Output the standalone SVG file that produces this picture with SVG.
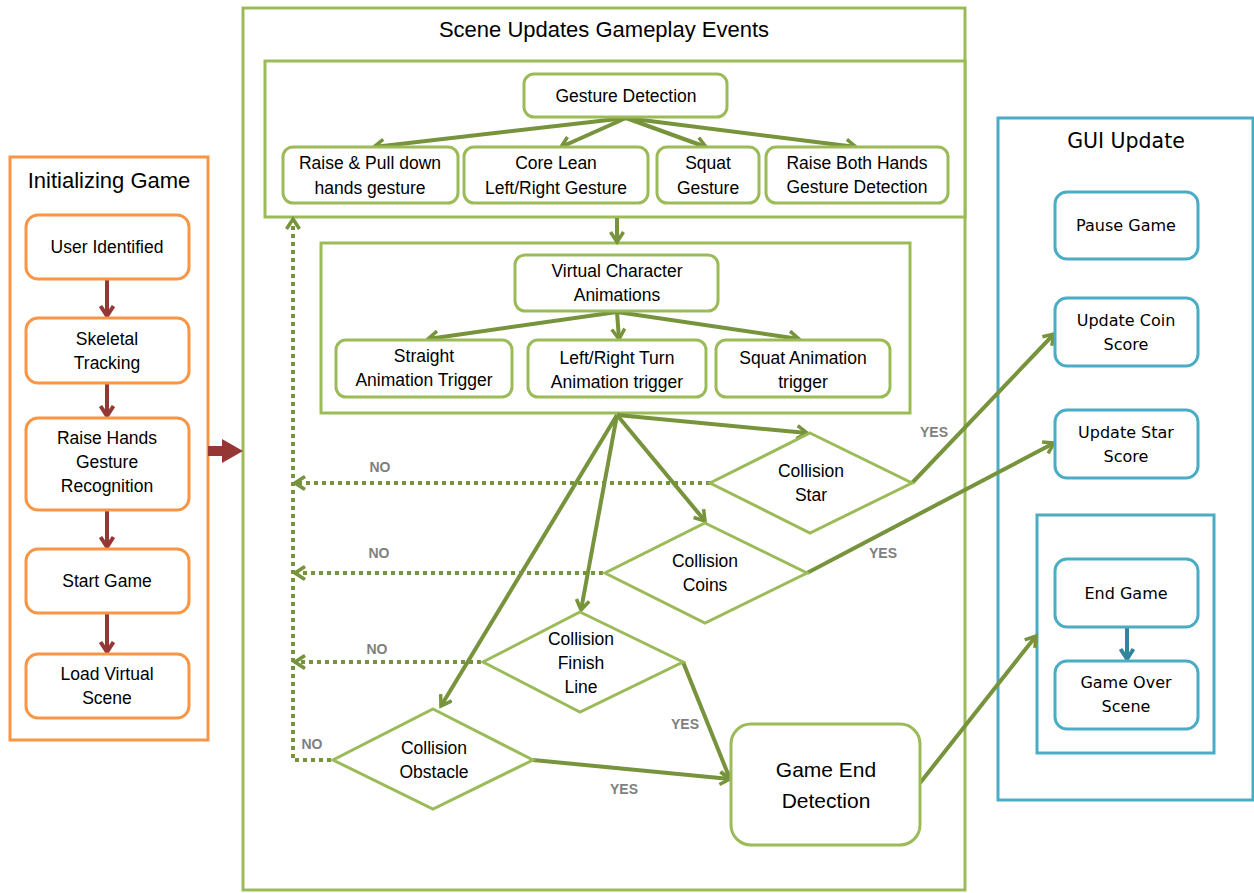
<svg xmlns="http://www.w3.org/2000/svg" width="1254" height="893" viewBox="0 0 1254 893">
<defs>
<style>
.bg{fill:#ffffff}
.pnlG{fill:#ffffff;stroke:#9BBB59;stroke-width:3}
.pnlO{fill:#ffffff;stroke:#F79646;stroke-width:3}
.pnlB{fill:#ffffff;stroke:#4BACC6;stroke-width:3}
.ndG{fill:#ffffff;stroke:#9BBB59;stroke-width:3}
.ndO{fill:#ffffff;stroke:#F79646;stroke-width:3}
.ndB{fill:#ffffff;stroke:#4BACC6;stroke-width:3}
.t{font-family:"Liberation Sans",Arial,sans-serif;font-size:17.5px;fill:#000;text-anchor:middle}
.tv{font-family:"DejaVu Sans",Verdana,sans-serif;font-size:16px;fill:#000;text-anchor:middle}
.ttl{font-family:"Liberation Sans",Arial,sans-serif;font-size:22px;fill:#000;text-anchor:middle}
.lbl{font-family:"Liberation Sans",Arial,sans-serif;font-size:14px;font-weight:bold;fill:#7F7F7F;text-anchor:middle}
.ag{fill:none;stroke:#77933C;stroke-width:4;marker-end:url(#mg)}
.agd{fill:none;stroke:#77933C;stroke-width:4;stroke-dasharray:4 4;marker-end:url(#mg)}
.ar{fill:none;stroke:#953735;stroke-width:4;marker-end:url(#mr)}
.at{fill:none;stroke:#31849B;stroke-width:4;marker-end:url(#mt)}
</style>
<marker id="mg" viewBox="0 0 16 16" refX="13" refY="8" markerWidth="16" markerHeight="16" markerUnits="userSpaceOnUse" orient="auto">
<path d="M3,1.5 L13,8 L3,14.5" fill="none" stroke="#77933C" stroke-width="3.5"/>
</marker>
<marker id="mr" viewBox="0 0 16 16" refX="13" refY="8" markerWidth="16" markerHeight="16" markerUnits="userSpaceOnUse" orient="auto">
<path d="M3,1.5 L13,8 L3,14.5" fill="none" stroke="#953735" stroke-width="4"/>
</marker>
<marker id="mt" viewBox="0 0 16 16" refX="13" refY="8" markerWidth="16" markerHeight="16" markerUnits="userSpaceOnUse" orient="auto">
<path d="M3,1.5 L13,8 L3,14.5" fill="none" stroke="#31849B" stroke-width="4"/>
</marker>
</defs>
<rect class="bg" x="0" y="0" width="1254" height="893"/>

<g id="panel-init">
<rect class="pnlO" x="10" y="157" width="198" height="583"/>
<text class="ttl" x="109" y="188">Initializing Game</text>
</g>
<g id="panel-scene">
<rect class="pnlG" x="243" y="8" width="722" height="882"/>
<text class="ttl" x="604" y="37">Scene Updates Gameplay Events</text>
</g>
<g id="panel-gesture">
<rect class="pnlG" x="265" y="61" width="700" height="156"/>
</g>
<g id="panel-anim">
<rect class="pnlG" x="321" y="243" width="589" height="170"/>
</g>
<g id="panel-gui">
<rect class="pnlB" x="998" y="118" width="255" height="682"/>
<text class="ttl" x="1126" y="148" style="font-family:'DejaVu Sans',Verdana,sans-serif;font-size:20.5px">GUI Update</text>
</g>
<g id="panel-gameover">
<rect class="pnlB" x="1037" y="515" width="177" height="238"/>
</g>

<g id="connectors">
<line class="ar" x1="107" y1="280" x2="107" y2="316"/>
<line class="ar" x1="107" y1="384" x2="107" y2="416"/>
<line class="ar" x1="107" y1="511" x2="107" y2="547"/>
<line class="ar" x1="107" y1="614" x2="107" y2="652"/>
<path d="M208,446 L222,446 L222,439 L243,451 L222,463 L222,456 L208,456 Z" fill="#953735"/>
<line class="ag" x1="626" y1="118" x2="374" y2="147"/>
<line class="ag" x1="626" y1="118" x2="561" y2="147"/>
<line class="ag" x1="626" y1="118" x2="706" y2="147"/>
<line class="ag" x1="626" y1="118" x2="856" y2="147"/>
<line class="ag" x1="617" y1="218" x2="617" y2="242"/>
<line class="ag" x1="617" y1="312" x2="428" y2="339"/>
<line class="ag" x1="617" y1="312" x2="619" y2="339"/>
<line class="ag" x1="617" y1="312" x2="799" y2="339"/>
<line class="ag" x1="617" y1="415" x2="807" y2="433"/>
<line class="ag" x1="617" y1="415" x2="705" y2="521"/>
<line class="ag" x1="617" y1="415" x2="581" y2="610"/>
<line class="ag" x1="617" y1="415" x2="441" y2="706"/>
<line class="agd" x1="710" y1="483" x2="295" y2="483"/>
<line class="agd" x1="603" y1="573" x2="295" y2="573"/>
<line class="agd" x1="481" y1="662" x2="295" y2="662"/>
<polyline class="agd" points="331,760 293,760 293,219"/>
<line class="ag" x1="912" y1="483" x2="1054" y2="334"/>
<line class="ag" x1="807" y1="573" x2="1054" y2="443"/>
<line class="ag" x1="683" y1="662" x2="730" y2="779"/>
<line class="ag" x1="533" y1="760" x2="730" y2="779"/>
<line class="ag" x1="920" y1="783" x2="1036" y2="636"/>
<line class="at" x1="1127" y1="628" x2="1127" y2="659"/>
<text class="lbl" x="380" y="472">NO</text>
<text class="lbl" x="379" y="558">NO</text>
<text class="lbl" x="377" y="654">NO</text>
<text class="lbl" x="312" y="749">NO</text>
<text class="lbl" x="934" y="437">YES</text>
<text class="lbl" x="883" y="558">YES</text>
<text class="lbl" x="685" y="729">YES</text>
<text class="lbl" x="624" y="794">YES</text>
</g>

<g id="n-user">
<rect class="ndO" x="26" y="215" width="163" height="64" rx="12"/>
<text class="t" x="107" y="253">User Identified</text>
</g>
<g id="n-skeletal">
<rect class="ndO" x="26" y="318" width="163" height="65" rx="12"/>
<text class="t" x="107" y="345">Skeletal</text>
<text class="t" x="107" y="369">Tracking</text>
</g>
<g id="n-raisehands">
<rect class="ndO" x="26" y="418" width="163" height="92" rx="12"/>
<text class="t" x="107" y="444">Raise Hands</text>
<text class="t" x="107" y="468">Gesture</text>
<text class="t" x="107" y="492">Recognition</text>
</g>
<g id="n-start">
<rect class="ndO" x="26" y="549" width="163" height="64" rx="12"/>
<text class="t" x="107" y="587">Start Game</text>
</g>
<g id="n-load">
<rect class="ndO" x="26" y="654" width="163" height="64" rx="12"/>
<text class="t" x="107" y="680">Load Virtual</text>
<text class="t" x="107" y="704">Scene</text>
</g>

<g id="n-gesture">
<rect class="ndG" x="524" y="74" width="203" height="43" rx="10"/>
<text class="t" x="626" y="102">Gesture Detection</text>
</g>
<g id="n-raisepull">
<rect class="ndG" x="283" y="147" width="175" height="56" rx="10"/>
<text class="t" x="370" y="169">Raise &amp; Pull down</text>
<text class="t" x="370" y="194">hands gesture</text>
</g>
<g id="n-corelean">
<rect class="ndG" x="464" y="147" width="184" height="56" rx="10"/>
<text class="t" x="556" y="169">Core Lean</text>
<text class="t" x="556" y="194">Left/Right Gesture</text>
</g>
<g id="n-squat">
<rect class="ndG" x="657" y="147" width="102" height="56" rx="10"/>
<text class="t" x="708" y="169">Squat</text>
<text class="t" x="708" y="194">Gesture</text>
</g>
<g id="n-raiseboth">
<rect class="ndG" x="766" y="147" width="182" height="56" rx="10"/>
<text class="t" x="857" y="169">Raise Both Hands</text>
<text class="t" x="857" y="193">Gesture Detection</text>
</g>

<g id="n-vca">
<rect class="ndG" x="515" y="255" width="203" height="56" rx="10"/>
<text class="t" x="617" y="277">Virtual Character</text>
<text class="t" x="617" y="301">Animations</text>
</g>
<g id="n-straight">
<rect class="ndG" x="336" y="340" width="176" height="57" rx="10"/>
<text class="t" x="424" y="362">Straight</text>
<text class="t" x="424" y="386">Animation Trigger</text>
</g>
<g id="n-turn">
<rect class="ndG" x="528" y="340" width="178" height="57" rx="10"/>
<text class="t" x="617" y="364">Left/Right Turn</text>
<text class="t" x="617" y="388">Animation trigger</text>
</g>
<g id="n-squatanim">
<rect class="ndG" x="716" y="340" width="174" height="57" rx="10"/>
<text class="t" x="803" y="364">Squat Animation</text>
<text class="t" x="803" y="388">trigger</text>
</g>

<g id="n-star">
<polygon class="ndG" points="810,433 912,483 810,533 710,483"/>
<text class="t" x="811" y="477">Collision</text>
<text class="t" x="811" y="501">Star</text>
</g>
<g id="n-coins">
<polygon class="ndG" points="705,523 807,573 705,623 605,573"/>
<text class="t" x="705" y="567">Collision</text>
<text class="t" x="705" y="591">Coins</text>
</g>
<g id="n-finish">
<polygon class="ndG" points="580,612 683,662 580,712 483,662"/>
<text class="t" x="581" y="645">Collision</text>
<text class="t" x="581" y="669">Finish</text>
<text class="t" x="581" y="693">Line</text>
</g>
<g id="n-obstacle">
<polygon class="ndG" points="433,709 533,760 433,809 333,760"/>
<text class="t" x="434" y="754">Collision</text>
<text class="t" x="434" y="778">Obstacle</text>
</g>
<g id="n-gameend">
<rect class="ndG" x="731" y="724" width="189" height="121" rx="20"/>
<text class="t" x="826" y="777" style="font-size:21px">Game End</text>
<text class="t" x="826" y="808" style="font-size:21px">Detection</text>
</g>

<g id="n-pause">
<rect class="ndB" x="1055" y="192" width="143" height="67" rx="12"/>
<text class="tv" x="1126" y="231">Pause Game</text>
</g>
<g id="n-coinscore">
<rect class="ndB" x="1055" y="298" width="143" height="68" rx="12"/>
<text class="tv" x="1126" y="326">Update Coin</text>
<text class="tv" x="1126" y="350">Score</text>
</g>
<g id="n-starscore">
<rect class="ndB" x="1055" y="410" width="143" height="68" rx="12"/>
<text class="tv" x="1126" y="438">Update Star</text>
<text class="tv" x="1126" y="462">Score</text>
</g>
<g id="n-endgame">
<rect class="ndB" x="1055" y="559" width="143" height="68" rx="12"/>
<text class="tv" x="1126" y="599">End Game</text>
</g>
<g id="n-gameover">
<rect class="ndB" x="1055" y="661" width="143" height="68" rx="12"/>
<text class="tv" x="1126" y="688">Game Over</text>
<text class="tv" x="1126" y="712">Scene</text>
</g>
</svg>
